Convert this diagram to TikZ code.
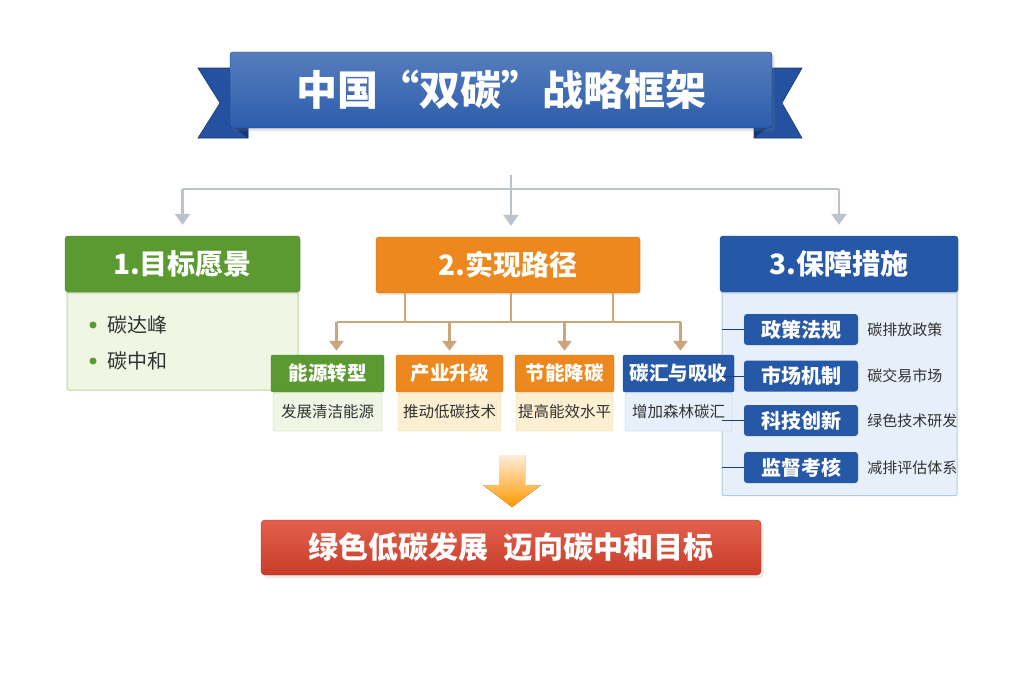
\documentclass[tikz,border=0pt]{standalone}
\usepackage{fontspec}
\setmainfont{Noto Sans CJK SC}
\usetikzlibrary{arrows.meta, positioning, shadows}
\definecolor{bannerBlue}{RGB}{44, 93, 172}
\definecolor{bannerDark}{RGB}{36, 82, 160}
\definecolor{bannerFold}{RGB}{22, 56, 118}
\definecolor{goalGreen}{RGB}{90, 154, 48}
\definecolor{goalLight}{RGB}{239, 246, 228}
\definecolor{goalEdge}{RGB}{187, 217, 156}
\definecolor{pathOrange}{RGB}{236, 136, 30}
\definecolor{pathLight}{RGB}{252, 239, 210}
\definecolor{pathEdge}{RGB}{243, 217, 168}
\definecolor{safeBlue}{RGB}{38, 88, 168}
\definecolor{safeLight}{RGB}{231, 239, 250}
\definecolor{safeEdge}{RGB}{178, 200, 232}
\definecolor{barRed}{RGB}{222, 68, 45}
\definecolor{linkGray}{RGB}{186, 194, 205}
\definecolor{linkTan}{RGB}{203, 166, 122}
\definecolor{textGray}{RGB}{50, 50, 50}

\begin{document}
\begin{tikzpicture}[x=1pt, y=-1pt,
  head/.style={rectangle, rounded corners=3pt, draw=#1!85!black, fill=#1,
               text=white, minimum height=56pt, inner sep=0pt,
               font=\bfseries\fontsize{28}{30}\selectfont,
               drop shadow={opacity=0.15, shadow xshift=1pt, shadow yshift=-2pt}},
  body/.style={rectangle, rounded corners=2pt, draw=#1, line width=1pt},
  subhead/.style={rectangle, rounded corners=2pt, fill=#1, draw=#1!85!black,
                  text=white, minimum height=37pt, inner sep=0pt,
                  font=\bfseries\fontsize{19.5}{21}\selectfont},
  subbody/.style={rectangle, rounded corners=2pt, minimum height=38pt, inner sep=0pt,
                  text=textGray, font=\fontsize{15.5}{17}\selectfont},
  btn/.style={rectangle, rounded corners=3pt, fill=safeBlue, text=white,
              minimum width=114pt, minimum height=31pt, inner sep=0pt,
              font=\bfseries\fontsize{20}{22}\selectfont},
  note/.style={anchor=west, inner sep=0pt, text=textGray,
               font=\fontsize{15}{17}\selectfont},
  item/.style={anchor=west, inner sep=0pt, text=textGray,
               font=\fontsize{20}{22}\selectfont},
  grayline/.style={linkGray, line width=2.5pt},
  grayarrow/.style={grayline, -{Triangle[length=11pt, width=15pt]}, shorten >=11pt},
  tanline/.style={linkTan, line width=2.5pt},
  tanarrow/.style={tanline, -{Triangle[length=10pt, width=14pt]}, shorten >=4pt},
  rib/.style={line width=0.6pt, draw=bannerFold},
]
\useasboundingbox[fill=white] (0,0) rectangle (1024,683);

% title ribbon
\fill[bannerDark, rib] (198,68) -- (248,68) -- (248,138) -- (198,138) -- (220,103) -- cycle;
\fill[bannerDark, rib] (802,68) -- (754,68) -- (754,138) -- (802,138) -- (782,103) -- cycle;
\fill[bannerFold] (232,126) -- (248,138) -- (248,126) -- cycle;
\fill[bannerFold] (770,126) -- (754,138) -- (754,126) -- cycle;
\node[rectangle, rounded corners=3pt, minimum width=542pt, minimum height=76pt,
      top color=bannerBlue!80!white, bottom color=bannerBlue, draw=bannerFold,
      text=white, font=\bfseries\fontsize{41}{44}\selectfont,
      drop shadow={opacity=0.2, shadow yshift=-3pt}] (title) at (501,90) {中国“双碳”战略框架};

% three pillars
\node[body=goalEdge, fill=goalLight, minimum width=231pt, minimum height=98pt] (goalbody) at (182.5,341) {};
\node[head=goalGreen, minimum width=235pt] (goal) at (182.5,264) {1.目标愿景};
\node[head=pathOrange, minimum width=264pt] (path) at (508,265) {2.实现路径};
\node[body=safeEdge, fill=safeLight, minimum width=235pt, minimum height=205pt] (safebody) at (839.5,393) {};
\node[head=safeBlue, minimum width=238pt] (safe) at (839,264) {3.保障措施};

\fill[goalGreen] (93,325) circle (3.5pt);
\node[item] (peak) at (107,325) {碳达峰};
\fill[goalGreen] (93,361) circle (3.5pt);
\node[item] (neutral) at (107,361) {碳中和};

% routes
\node[subbody, fill=goalLight, draw=goalEdge, minimum width=109pt] (energybody) at (327.5,412) {发展清洁能源};
\node[subhead=goalGreen, minimum width=113pt] (energy) at (327.5,373.5) {能源转型};
\node[subbody, fill=pathLight, draw=pathEdge, minimum width=103pt] (industrybody) at (449.5,412) {推动低碳技术};
\node[subhead=pathOrange, minimum width=107pt] (industry) at (449.5,373.5) {产业升级};
\node[subbody, fill=pathLight, draw=pathEdge, minimum width=97pt] (savingbody) at (564.5,412) {提高能效水平};
\node[subhead=pathOrange, minimum width=99pt] (saving) at (564.5,373.5) {节能降碳};
\node[subbody, fill=safeLight, draw=safeEdge, minimum width=107pt] (sinkbody) at (678.5,412) {增加森林碳汇};
\node[subhead=safeBlue, minimum width=111pt] (sink) at (678.5,373.5) {碳汇与吸收};

% measures
\node[btn] (policy) at (801,329.5) {政策法规};
\node[note, right=9pt of policy] (policynote) {碳排放政策};
\node[btn] (market) at (801,376) {市场机制};
\node[note, right=9pt of market] (marketnote) {碳交易市场};
\node[btn] (tech) at (801,420.5) {科技创新};
\node[note, right=9pt of tech] (technote) {绿色技术研发};
\node[btn] (audit) at (801,467.5) {监督考核};
\node[note, right=9pt of audit] (auditnote) {减排评估体系};

\foreach \m in {policy, market, tech, audit}
  \draw[safeBlue!70!black, line width=1pt] (safebody.west |- \m) -- (\m.west);

% top connectors
\coordinate (trunk) at (511,175);
\coordinate (rail) at (511,189);
\draw[grayline] (goal.north |- rail) -- (safe.north |- rail);
\draw[grayarrow] (trunk) -- (trunk |- path.north);
\draw[grayarrow] (goal.north |- rail) -- (goal.north);
\draw[grayarrow] (safe.north |- rail) -- (safe.north);

% route connectors
\coordinate (hub) at (511,322);
\draw[tanline] ([xshift=29pt]path.south west) -- ([xshift=29pt]path.south west |- hub);
\draw[tanline] (hub |- path.south) -- (hub);
\draw[tanline] ([xshift=-27pt]path.south east) -- ([xshift=-27pt]path.south east |- hub);
\draw[tanline] ([xshift=9pt]energy.north |- hub) -- ([xshift=2pt]sink.north |- hub);
\foreach \r/\dx in {energy/9, industry/0, saving/0, sink/2}
  \draw[tanarrow] ([xshift=\dx pt]\r.north |- hub) -- ([xshift=\dx pt]\r.north);

% outcome
\fill[top color=orange!15!white, bottom color=orange!80!yellow]
  (499,455) -- (525,455) -- (525,485) -- (541,485) -- (512,507) -- (483,485) -- (499,485) -- cycle;
\node[rectangle, rounded corners=4pt, minimum width=500pt, minimum height=55pt,
      top color=barRed!85!white, bottom color=barRed!90!black, draw=barRed!80!black,
      text=white, font=\bfseries\fontsize{30}{33}\selectfont,
      drop shadow={opacity=0.15, shadow yshift=-3pt}] (vision) at (511,547.5) {绿色低碳发展\enspace 迈向碳中和目标};
\end{tikzpicture}
\end{document}
